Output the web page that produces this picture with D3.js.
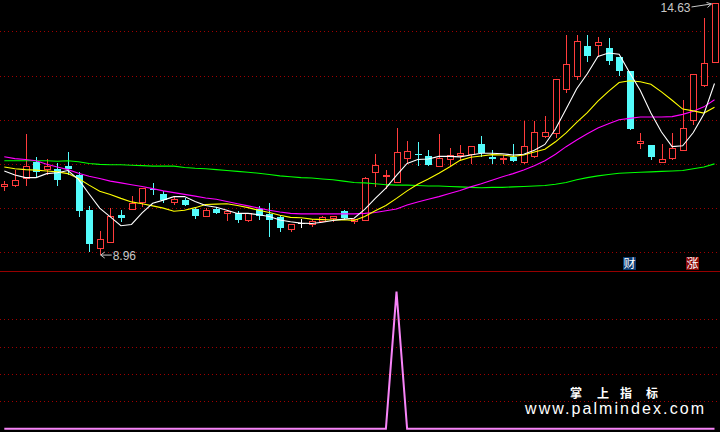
<!DOCTYPE html>
<html><head><meta charset="utf-8">
<script src="https://cdn.jsdelivr.net/npm/d3@7"></script>
<style>html,body{margin:0;padding:0;background:#000;overflow:hidden}</style>
</head><body>
<svg id="c" width="720" height="432"></svg>
<script>
const openP  = [10.49,10.53,10.69,11.04,10.88,10.88,10.95,10.74,9.95,9.10,9.23,9.84,9.98,10.14,10.44,10.33,10.14,10.18,9.97,9.82,9.98,9.88,9.90,9.72,9.97,9.86,9.80,9.52,9.66,9.63,9.71,9.78,9.93,9.71,9.74,10.82,10.73,10.59,11.14,11.22,11.17,10.95,11.10,11.20,11.22,11.44,11.16,11.10,11.16,11.04,11.19,11.63,11.69,12.69,13.00,13.66,13.68,13.62,13.41,13.10,11.47,11.42,11.04,11.14,11.31,12.00,12.79,13.31];
const highP  = [10.61,10.86,11.67,11.15,11.12,11.03,11.26,10.82,10.04,9.48,10.01,9.95,10.27,10.45,10.56,10.39,10.27,10.23,10.02,10.01,10.02,9.95,9.93,9.89,10.04,10.12,9.84,9.63,9.76,9.76,9.82,9.83,9.95,9.76,10.71,11.22,10.86,11.82,11.51,11.49,11.31,11.67,11.36,11.42,11.40,11.62,11.31,11.21,11.44,11.96,11.96,12.08,12.91,13.92,13.92,13.92,13.86,13.84,13.41,13.10,11.71,11.42,11.44,11.69,12.44,13.03,14.30,14.63];
const lowP   = [10.42,10.50,10.53,10.73,10.78,10.52,10.78,9.81,9.03,8.96,9.23,9.71,9.98,10.05,10.31,10.14,10.09,10.06,9.78,9.82,9.88,9.72,9.69,9.70,9.76,9.38,9.48,9.48,9.57,9.59,9.70,9.70,9.75,9.66,9.72,10.49,10.46,10.59,11.01,10.98,10.98,10.95,10.98,11.08,11.01,11.19,11.02,11.02,11.07,11.01,11.16,11.61,11.61,12.63,12.91,13.33,13.44,13.25,13.02,11.79,11.36,11.10,11.04,11.10,11.31,11.91,12.76,13.31];
const closeP = [10.55,10.64,10.95,10.82,10.95,10.63,10.89,9.93,9.18,9.29,9.81,9.78,10.11,10.45,10.40,10.18,10.21,10.06,9.82,9.95,9.89,9.93,9.72,9.89,9.82,9.72,9.55,9.63,9.66,9.70,9.79,9.83,9.78,9.76,10.69,10.98,10.76,11.28,11.30,11.20,10.98,11.14,11.21,11.25,11.40,11.25,11.10,11.14,11.07,11.41,11.73,11.73,12.91,13.25,13.79,13.44,13.75,13.33,13.10,11.79,11.52,11.16,11.12,11.35,11.82,13.03,13.29,14.63];

const ma5  = [10.84,10.75,10.69,10.69,10.78,10.80,10.85,10.65,10.32,10.00,9.80,9.60,9.63,9.89,10.11,10.18,10.26,10.26,10.15,10.06,10.02,9.95,9.88,9.88,9.85,9.81,9.73,9.69,9.66,9.65,9.68,9.72,9.75,9.77,9.97,10.22,10.45,10.74,11.01,11.10,11.11,11.17,11.17,11.16,11.20,11.24,11.24,11.23,11.20,11.22,11.31,11.44,11.79,12.24,12.70,13.04,13.43,13.51,13.48,13.06,12.66,12.15,11.72,11.39,11.41,11.71,12.13,12.82];
const ma10 = [10.93,10.89,10.87,10.86,10.84,10.82,10.78,10.67,10.52,10.38,10.31,10.22,10.14,10.10,10.05,10.00,9.93,9.95,10.01,10.08,10.09,10.10,10.06,10.01,9.95,9.90,9.84,9.79,9.78,9.75,9.74,9.73,9.74,9.72,9.81,9.94,10.06,10.22,10.39,10.54,10.66,10.79,10.93,11.08,11.15,11.18,11.21,11.20,11.17,11.20,11.27,11.33,11.50,11.70,11.94,12.16,12.42,12.64,12.84,12.88,12.86,12.80,12.63,12.44,12.24,12.20,12.15,12.28];
const ma20 = [11.16,11.12,11.10,11.07,10.99,10.93,10.87,10.79,10.72,10.67,10.61,10.57,10.53,10.49,10.44,10.39,10.35,10.31,10.27,10.23,10.20,10.15,10.10,10.05,10.00,9.95,9.91,9.88,9.87,9.87,9.87,9.87,9.87,9.87,9.88,9.90,9.94,9.98,10.07,10.14,10.20,10.26,10.33,10.40,10.48,10.55,10.63,10.71,10.78,10.86,10.96,11.07,11.22,11.39,11.54,11.68,11.81,11.91,12.00,12.03,12.06,12.06,12.06,12.07,12.12,12.19,12.29,12.45];
const ma60 = [11.07,11.07,11.07,11.07,11.07,11.06,11.07,11.05,11.01,10.99,10.98,10.98,10.97,10.96,10.95,10.95,10.95,10.92,10.90,10.89,10.87,10.85,10.83,10.81,10.79,10.76,10.73,10.71,10.69,10.68,10.66,10.64,10.61,10.58,10.57,10.55,10.53,10.52,10.52,10.51,10.50,10.50,10.49,10.48,10.47,10.46,10.47,10.47,10.48,10.49,10.50,10.51,10.54,10.58,10.64,10.69,10.73,10.76,10.79,10.80,10.81,10.82,10.83,10.84,10.85,10.89,10.93,11.00];
const signal = [0,0,0,0,0,0,0,0,0,0,0,0,0,0,0,0,0,0,0,0,0,0,0,0,0,0,0,0,0,0,0,0,0,0,0,0,0,5,0,0,0,0,0,0,0,0,0,0,0,0,0,0,0,0,0,0,0,0,0,0,0,0,0,0,0,0,0,0];

const priceGrid  = [9,10,11,12,13,14];
const signalGrid = [1,2,3,4];
const lowLabel = "8.96", lowIndex = 9;
const highLabel = "14.63", highIndex = 67;
const tagLabels = [{t:"财", i:59, c:"#0b3b72"}, {t:"涨", i:65, c:"#8a0808"}];
const brandCn = ["掌","上","指","标"];
const brandUrl = "www.palmindex.com";

const svg = d3.select("#c");
svg.append("rect").attr("width",720).attr("height",432).attr("fill","#000");

const n = closeP.length;
const x = d3.scaleLinear().domain([0, n-1]).range([4.3, 714.5]);
const y = d3.scaleLinear().domain([9, 14]).range([252.3, 31.3]);
const ys = d3.scaleLinear().domain([0, 5]).range([428.7, 291.7]);

const GRID = "#a00000";
svg.append("g").selectAll("line").data(priceGrid).join("line")
  .attr("x1",0).attr("x2",720)
  .attr("y1",d=>Math.round(y(d))+0.5).attr("y2",d=>Math.round(y(d))+0.5)
  .attr("stroke",GRID).attr("stroke-dasharray","1,3");
svg.append("g").selectAll("line").data(signalGrid).join("line")
  .attr("x1",0).attr("x2",720)
  .attr("y1",d=>Math.round(ys(d))+0.5).attr("y2",d=>Math.round(ys(d))+0.5)
  .attr("stroke",GRID).attr("stroke-dasharray","1,3");
svg.append("line").attr("x1",0).attr("x2",720).attr("y1",271.5).attr("y2",271.5)
  .attr("stroke","#960000").attr("stroke-width",1);

const RED = "#ff3c3c", CYAN = "#54fcfc";
const cg = svg.append("g").attr("shape-rendering","crispEdges");
d3.range(n).forEach(i => {
  const cx = Math.round(x(i));
  const o = openP[i], c = closeP[i], h = highP[i], l = lowP[i];
  const yo = Math.round(y(o)), yc = Math.round(y(c)), yh = Math.round(y(h)), yl = Math.round(y(l));
  if (c > o) {
    if (yh < yc) cg.append("line").attr("x1",cx+0.5).attr("x2",cx+0.5).attr("y1",yh).attr("y2",yc).attr("stroke",RED);
    if (yl > yo) cg.append("line").attr("x1",cx+0.5).attr("x2",cx+0.5).attr("y1",yo).attr("y2",yl+1).attr("stroke",RED);
    cg.append("rect").attr("x",cx-3+0.5).attr("y",yc+0.5).attr("width",6).attr("height",Math.max(1,yo-yc))
      .attr("fill","#000").attr("stroke",RED);
  } else if (c < o) {
    cg.append("line").attr("x1",cx+0.5).attr("x2",cx+0.5).attr("y1",yh).attr("y2",yl+1).attr("stroke",CYAN);
    cg.append("rect").attr("x",cx-3).attr("y",yo).attr("width",7).attr("height",Math.max(1,yc-yo)).attr("fill",CYAN);
  } else {
    cg.append("line").attr("x1",cx+0.5).attr("x2",cx+0.5).attr("y1",yh).attr("y2",yl+1).attr("stroke","#fff");
    cg.append("line").attr("x1",cx-3).attr("x2",cx+4).attr("y1",yo+0.5).attr("y2",yo+0.5).attr("stroke","#fff");
  }
});

const lineGen = arr => d3.line().x((d,i)=>x(i)).y(d=>y(d))(arr);
[[ma60,"#00ff00"],[ma20,"#ff00ff"],[ma10,"#ffff00"],[ma5,"#ffffff"]].forEach(([arr,col]) => {
  svg.append("path").attr("d", lineGen(arr)).attr("fill","none").attr("stroke",col).attr("stroke-width",1.1);
});

svg.append("path").attr("d", d3.line().x((d,i)=>x(i)).y(d=>ys(d))(signal))
  .attr("fill","none").attr("stroke","#f884f8").attr("stroke-width",2);

const lx = x(lowIndex), ly = y(lowP[lowIndex]) + 1;
svg.append("line").attr("x1",lx+1).attr("x2",lx+12).attr("y1",ly).attr("y2",ly).attr("stroke","#c8c8c8");
svg.append("path").attr("d",`M${lx+5},${ly-3} L${lx+1},${ly} L${lx+5},${ly+3}`).attr("fill","none").attr("stroke","#c8c8c8");
svg.append("text").attr("x",lx+13).attr("y",ly+5).text(lowLabel)
  .attr("fill","#c8c8c8").attr("font-family","Liberation Sans, Arial, sans-serif").attr("font-size",12);

const hx = x(highIndex), hy = y(highP[highIndex]);
svg.append("text").attr("x",hx-24).attr("y",hy+9).attr("text-anchor","end").text(highLabel)
  .attr("fill","#c8c8c8").attr("font-family","Liberation Sans, Arial, sans-serif").attr("font-size",12);
svg.append("line").attr("x1",hx-23).attr("y1",hy+3.5).attr("x2",hx-3).attr("y2",hy+0.5).attr("stroke","#c8c8c8");
svg.append("path").attr("d",`M${hx-8},${hy-1} L${hx-3},${hy+0.5} L${hx-7},${hy+4}`).attr("fill","none").attr("stroke","#c8c8c8");

tagLabels.forEach(tg => {
  const tx = Math.round(x(tg.i)) - 7;
  svg.append("rect").attr("x",tx).attr("y",257).attr("width",13).attr("height",13).attr("fill",tg.c);
  svg.append("text").attr("x",tx+6.5).attr("y",268).attr("text-anchor","middle").text(tg.t)
    .attr("fill","#fff").attr("font-family","Noto Sans CJK SC").attr("font-size",12);
});

const cnX = [576, 603, 626, 652];
brandCn.forEach((t,k) => {
  svg.append("text").attr("x",cnX[k]).attr("y",398).attr("text-anchor","middle").text(t)
    .attr("fill","#fff").attr("font-weight","bold").attr("font-family","Noto Sans CJK SC").attr("font-size",12);
});
svg.append("text").attr("x",525).attr("y",414).text(brandUrl)
  .attr("fill","#fff").attr("font-family","Liberation Sans, Arial, sans-serif").attr("font-size",16)
  .attr("textLength",179).attr("lengthAdjust","spacing");
</script>
</body></html>
